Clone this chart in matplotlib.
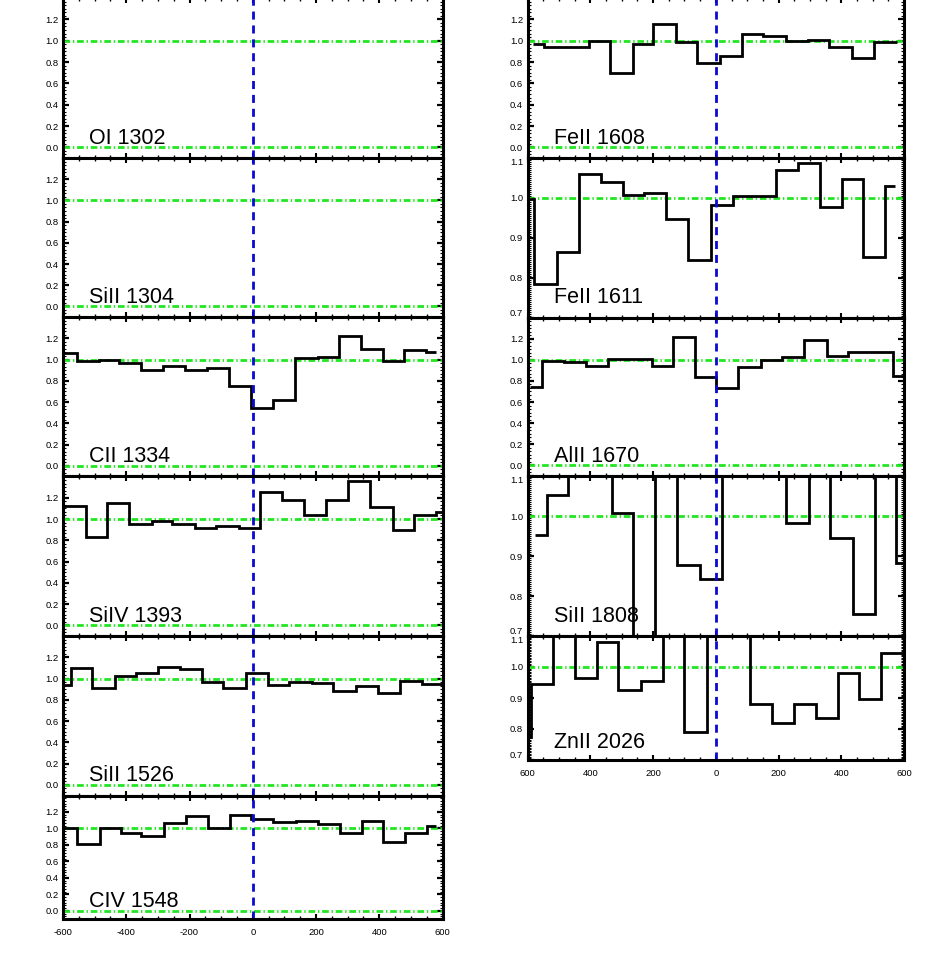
import matplotlib
matplotlib.use("Agg")
import matplotlib.pyplot as plt
from matplotlib.ticker import FixedLocator, FixedFormatter, AutoMinorLocator, MultipleLocator

plt.rcParams["font.family"] = ["Liberation Sans", "DejaVu Sans"]

# bin edges (km/s) and normalised flux
cii_1334_edges = [-600, -555, -486, -422, -352, -283, -215, -144, -75, -7, 65, 135, 205, 272, 342, 412, 478, 549, 581]
cii_1334_flux = [1.06, 0.99, 0.995, 0.97, 0.90, 0.935, 0.905, 0.92, 0.75, 0.545, 0.615, 1.01, 1.02, 1.22, 1.10, 0.99, 1.09, 1.075]

siiv_1393_edges = [-600, -528, -460, -391, -320, -254, -183, -115, -43, 24, 94, 163, 231, 302, 372, 442, 510, 581, 600]
siiv_1393_flux = [1.125, 0.83, 1.15, 0.955, 0.985, 0.955, 0.915, 0.93, 0.915, 1.25, 1.175, 1.035, 1.175, 1.36, 1.115, 0.895, 1.04, 1.07]

siii_1526_edges = [-600, -576, -507, -436, -368, -299, -231, -162, -94, -22, 47, 115, 186, 254, 326, 396, 465, 534, 600]
siii_1526_flux = [0.935, 1.10, 0.91, 1.02, 1.05, 1.11, 1.09, 0.965, 0.91, 1.055, 0.935, 0.97, 0.955, 0.885, 0.93, 0.865, 0.975, 0.945]

civ_1548_edges = [-600, -555, -484, -418, -352, -281, -212, -141, -72, -4, 65, 136, 207, 275, 344, 412, 481, 552, 581]
civ_1548_flux = [1.01, 0.805, 1.0, 0.95, 0.91, 1.06, 1.15, 1.0, 1.165, 1.11, 1.08, 1.095, 1.055, 0.95, 1.095, 0.84, 0.94, 1.03]

feii_1608_edges = [-582, -548, -476, -404, -338, -265, -199, -127, -59, 13, 82, 151, 224, 295, 362, 433, 504, 577]
feii_1608_flux = [0.965, 0.945, 0.945, 0.995, 0.70, 0.97, 1.16, 0.99, 0.79, 0.86, 1.06, 1.04, 0.995, 1.005, 0.94, 0.835, 0.985]

feii_1611_edges = [-600, -579, -505, -435, -367, -297, -229, -159, -88, -16, 54, 123, 192, 263, 332, 401, 470, 539, 571]
feii_1611_flux = [0.9975, 0.785, 0.865, 1.06, 1.04, 1.008, 1.0125, 0.9475, 0.844, 0.9825, 1.004, 1.004, 1.071, 1.0875, 0.9775, 1.0475, 0.8525, 1.031]

alii_1670_edges = [-593, -555, -484, -414, -343, -274, -205, -138, -66, 0, 72, 143, 210, 281, 353, 423, 494, 566, 600]
alii_1670_flux = [0.74, 0.985, 0.98, 0.945, 1.01, 1.01, 0.945, 1.215, 0.835, 0.735, 0.93, 1.0, 1.03, 1.19, 1.04, 1.07, 1.07, 0.85]

# values above 1.1 / below 0.7 run off the plot
siii_1808_edges = [-577, -540, -471, -402, -332, -263, -194, -123, -50, 19, 88, 157, 224, 297, 364, 436, 508, 575, 600]
siii_1808_flux = [0.952, 1.053, 1.15, 1.15, 1.007, 0.65, 1.15, 0.877, 0.843, 1.15, 1.15, 1.15, 0.983, 1.15, 0.945, 0.754, 1.15, 0.882]

znii_2026_edges = [-600, -590, -518, -449, -380, -311, -240, -170, -102, -29, 40, 109, 180, 250, 318, 388, 457, 527, 600]
znii_2026_flux = [0.775, 0.945, 1.15, 0.963, 1.08, 0.926, 0.955, 1.15, 0.79, 1.15, 1.15, 0.881, 0.818, 0.881, 0.834, 0.982, 0.896, 1.046]

vel_ticks = [-600, -400, -200, 0, 200, 400, 600]
left_xticklabels = ["-600", "-400", "-200", "0", "200", "400", "600"]
right_xticklabels = ["600", "400", "200", "0", "200", "400", "600"]

full_ticks = [0.0, 0.2, 0.4, 0.6, 0.8, 1.0, 1.2]
full_ticklabels = ["0.0", "0.2", "0.4", "0.6", "0.8", "1.0", "1.2"]
narrow_ticks = [0.7, 0.8, 0.9, 1.0, 1.1]
narrow_ticklabels = ["0.7", "0.8", "0.9", "1.0", "1.1"]

# (label, edges, flux, y-range kind)
left_panels = [
    ("OI 1302", None, None, "full"),
    ("SiII 1304", None, None, "full"),
    ("CII 1334", cii_1334_edges, cii_1334_flux, "full"),
    ("SiIV 1393", siiv_1393_edges, siiv_1393_flux, "full"),
    ("SiII 1526", siii_1526_edges, siii_1526_flux, "full"),
    ("CIV 1548", civ_1548_edges, civ_1548_flux, "full"),
]
right_panels = [
    ("FeII 1608", feii_1608_edges, feii_1608_flux, "full"),
    ("FeII 1611", feii_1611_edges, feii_1611_flux, "narrow"),
    ("AlII 1670", alii_1670_edges, alii_1670_flux, "full"),
    ("SiII 1808", siii_1808_edges, siii_1808_flux, "narrow"),
    ("ZnII 2026", znii_2026_edges, znii_2026_flux, "narrow"),
]

W, H = 927, 955
fig = plt.figure(figsize=(W / 100, H / 100), dpi=100)

GREEN = "#22e622"
BLUE = "#0a0ad2"
DASHDOT = (0, (2.4, 1.0, 0.5, 1.0))

# pixel layout of the two columns
left_x = (63, 442.5)
right_x = (527.7, 904)
left_rows = [-2, 158, 317, 476.5, 636, 795.5, 919]
right_rows = [-2, 158, 317.5, 476, 636, 760]


def draw_panel(ax, label, edges, flux, kind, bottom, xlabels, short):
    ax.set_xlim(-600, 600)
    if kind == "full":
        ax.set_ylim(-0.1, 1.4)
        ax.yaxis.set_major_locator(FixedLocator(full_ticks))
        ax.yaxis.set_major_formatter(FixedFormatter(full_ticklabels))
        ax.yaxis.set_minor_locator(AutoMinorLocator(6))
        ax.axhline(0.0, color=GREEN, lw=2.0, ls=DASHDOT, zorder=2)
    else:
        ax.set_ylim(0.7, 1.1)
        ax.yaxis.set_major_locator(FixedLocator(narrow_ticks))
        ax.yaxis.set_major_formatter(FixedFormatter(narrow_ticklabels))
        ax.yaxis.set_minor_locator(AutoMinorLocator(20))
    ax.axhline(1.0, color=GREEN, lw=2.0, ls=DASHDOT, zorder=2)

    if edges is not None:
        ax.stairs(flux, edges, baseline=None, color="black", lw=2.0, zorder=3)

    ax.axvline(0, color=BLUE, lw=2.0, ls=(0, (2.9, 2.1)), zorder=4)

    ax.xaxis.set_major_locator(FixedLocator(vel_ticks))
    ax.xaxis.set_minor_locator(MultipleLocator(50))
    if bottom:
        ax.xaxis.set_major_formatter(FixedFormatter(xlabels))
    else:
        ax.xaxis.set_major_formatter(FixedFormatter([""] * len(vel_ticks)))

    ax.tick_params(which="both", direction="in", top=True, right=True, colors="black")
    ax.xaxis.set_tick_params(which="major", length=3.5, width=1.5, labelsize=6.8, pad=6.5)
    ax.xaxis.set_tick_params(which="minor", length=2, width=1)
    ax.yaxis.set_tick_params(which="major", length=4.5, width=1.6, labelsize=6.8, pad=3.3)
    ax.yaxis.set_tick_params(which="minor", length=2, width=0.8)
    for s in ax.spines.values():
        s.set_linewidth(2.2)
        s.set_zorder(5)

    # edge labels of the narrow panels sit just inside the frame
    if kind == "narrow":
        fig.canvas.draw()
        ticklabels = ax.get_yticklabels()
        ticklabels[0].set_va("bottom")
        ticklabels[-1].set_va("top")

    ax.annotate(label, xy=(0, 0), xycoords="axes fraction",
                xytext=(19, 8.3 if short else 10.4), textcoords="offset points",
                fontsize=15.5, ha="left", va="baseline")


def column(panels, xs, rows, xlabels):
    n = len(panels)
    for i, (label, edges, flux, kind) in enumerate(panels):
        top, bot = rows[i], rows[i + 1]
        ax = fig.add_axes([xs[0] / W, 1 - bot / H, (xs[1] - xs[0]) / W, (bot - top) / H])
        draw_panel(ax, label, edges, flux, kind, i == n - 1, xlabels, (bot - top) < 140)


column(left_panels, left_x, left_rows, left_xticklabels)
column(right_panels, right_x, right_rows, right_xticklabels)

fig.savefig("out.png", dpi=100)
